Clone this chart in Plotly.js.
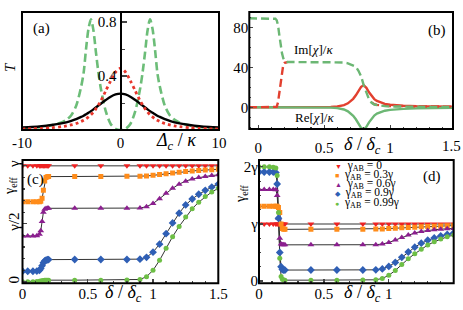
<!DOCTYPE html>
<html>
<head>
<meta charset="utf-8">
<script src="https://cdn.plot.ly/plotly-3.0.1.min.js"></script>
<style>html,body{margin:0;padding:0;background:#fff;}#plot{width:463px;height:310px;}</style>
</head>
<body>
<div id="plot"></div>
<script>
// ---------- Panel (a): transmission T vs Delta_c/kappa ----------
const detuningA = [-10,-9,-8,-7,-6,-5.5,-5,-4.5,-4,-3.75,-3.5,-3.25,-3,-2.75,-2.5,-2.25,-2,-1.5,-1,-0.5,0,0.5,1,1.5,2,2.25,2.5,2.75,3,3.25,3.5,3.75,4,4.5,5,5.5,6,7,8,9,10];
const transGreen = [0.011,0.015,0.022,0.035,0.055,0.075,0.11,0.18,0.32,0.42,0.6,0.75,0.82,0.74,0.58,0.43,0.31,0.14,0.045,0.008,0,0.008,0.045,0.14,0.31,0.43,0.58,0.74,0.82,0.75,0.6,0.42,0.32,0.18,0.11,0.075,0.055,0.035,0.022,0.015,0.011];
const transRed = [0.007,0.009,0.012,0.017,0.025,0.03,0.038,0.048,0.063,0.072,0.083,0.097,0.113,0.133,0.157,0.185,0.215,0.29,0.365,0.43,0.458,0.43,0.365,0.29,0.215,0.185,0.157,0.133,0.113,0.097,0.083,0.072,0.063,0.048,0.038,0.03,0.025,0.017,0.012,0.009,0.007];
const transBlack = [0.018,0.022,0.028,0.037,0.049,0.057,0.067,0.08,0.097,0.106,0.117,0.128,0.14,0.153,0.167,0.181,0.195,0.222,0.247,0.264,0.27,0.264,0.247,0.222,0.195,0.181,0.167,0.153,0.14,0.128,0.117,0.106,0.097,0.08,0.067,0.057,0.049,0.037,0.028,0.022,0.018];

// ---------- Panel (b): susceptibility vs delta/delta_c ----------
const deltaB = [-0.07,0,0.05,0.1,0.12,0.13,0.14,0.15,0.16,0.17,0.18,0.19,0.2,0.22,0.3,0.4,0.5,0.55,0.6,0.65,0.68,0.7,0.72,0.74,0.76,0.78,0.8,0.82,0.84,0.86,0.88,0.9,0.93,0.96,1.0,1.05,1.1,1.2,1.3,1.4,1.5];
const imGreen = [89,89,89,89,89,88.5,87,82,72,62,54,49,46.5,45.3,45,45,45,45,45,44.7,44,43,41.5,40.5,36.5,31,22,14.5,8,4.5,2.8,2.3,1.6,1.2,0.9,0.7,0.6,0.45,0.35,0.3,0.25];
const imRed = [0,0,0,0,0,0,0.5,5,15,28,38,43,44.5,45,null,null,null,null,null,null,null,null,null,null,null,null,null,null,null,4.8,3.1,2.4,1.8,1.5,1.3,1.1,1.0,0.9,0.8,0.7,0.6];
const reRed = [0,0,0,0,0,0,0,0,0,0,0,0,0,0,0,0,0,0.3,0.8,2.2,4,5.8,8.5,12,16.5,20.5,22,19.5,15,11,8.2,6.3,4.5,3.4,2.6,2.0,1.6,1.1,0.8,0.6,0.5];
const reGreen = [0,0,0,0,0,0,0,0,0,0,0,0,0,0,0,0,0,-0.3,-0.8,-2.2,-4,-5.8,-8.5,-12,-16.5,-20.5,-22,-19.5,-15,-11,-8.2,-6.3,-4.5,-3.4,-2.6,-2.0,-1.6,-1.1,-0.8,-0.6,-0.5];

// ---------- Panels (c), (d): gamma_eff / gamma vs delta/delta_c ----------
const deltaCD = [0,0.04,0.08,0.11,0.13,0.14,0.15,0.16,0.17,0.18,0.19,0.2,0.4,0.6,0.8,0.9,0.95,1.0,1.05,1.1,1.15,1.2,1.25,1.3,1.35,1.4,1.45,1.5];
const legendLabels = ['γ<sub>AB</sub> = 0','γ<sub>AB</sub> = 0.3γ','γ<sub>AB</sub> = 0.6γ','γ<sub>AB</sub> = 0.9γ','γ<sub>AB</sub> = 0.99γ'];
const c0  = [1,1,1,1,1,1,1,1,1,1,1,1,1,1,1,1,1,1,1,1,1,1,1,1,1,1,1,1];
const c03 = [0.69,0.69,0.69,0.69,0.69,0.695,0.72,0.79,0.87,0.9,0.905,0.907,0.908,0.908,0.909,0.91,0.912,0.918,0.925,0.932,0.938,0.944,0.95,0.955,0.96,0.964,0.967,0.97];
const c06 = [0.395,0.395,0.395,0.397,0.41,0.44,0.52,0.6,0.625,0.632,0.634,0.634,0.634,0.634,0.634,0.636,0.648,0.675,0.717,0.763,0.806,0.842,0.868,0.886,0.899,0.908,0.916,0.922];
const c09 = [0.092,0.092,0.092,0.093,0.1,0.115,0.14,0.165,0.18,0.188,0.191,0.192,0.193,0.193,0.193,0.196,0.212,0.256,0.325,0.415,0.508,0.592,0.663,0.714,0.755,0.789,0.817,0.843];
const c099= [0.002,0.002,0.002,0.003,0.005,0.008,0.011,0.013,0.014,0.015,0.015,0.015,0.015,0.015,0.016,0.021,0.045,0.1,0.186,0.29,0.39,0.478,0.558,0.63,0.687,0.735,0.775,0.806];
const d0  = [1,1,1,1,1,1,1,1,1,1,1,1,1,1,1,1,1,1,1,1,1,1,1,1,1,1,1,1];
const d03 = [1.31,1.31,1.31,1.31,1.31,1.31,1.29,1.2,1.0,0.92,0.905,0.905,0.908,0.908,0.909,0.91,0.912,0.918,0.925,0.932,0.938,0.944,0.95,0.955,0.96,0.964,0.967,0.97];
const d06 = [1.605,1.605,1.605,1.603,1.6,1.5,1.1,0.75,0.65,0.635,0.634,0.634,0.634,0.634,0.634,0.636,0.648,0.675,0.717,0.763,0.806,0.842,0.868,0.886,0.899,0.908,0.916,0.922];
const d09 = [1.91,1.91,1.91,1.908,1.9,1.7,1.1,0.5,0.25,0.2,0.193,0.192,0.193,0.193,0.193,0.196,0.212,0.256,0.325,0.415,0.508,0.592,0.663,0.714,0.755,0.789,0.817,0.843];
const d099= [2.0,2.0,2.0,1.995,1.98,1.85,1.2,0.4,0.08,0.03,0.02,0.015,0.015,0.015,0.016,0.021,0.045,0.1,0.186,0.29,0.39,0.478,0.558,0.63,0.687,0.735,0.775,0.806];

const W = 463, H = 310;
const FONT = "'Liberation Serif', 'Times New Roman', serif";
const colA = {green:'#6cbd78', red:'#e8372c', black:'#000000'};
const colB = {green:'#6cb774', red:'#e2402f'};
const serCols = ['#ee2222','#ff8c1a','#8b1f8f','#2f5fb5','#6dbf45'];
const serSyms = ['triangle-down','square','triangle-up','diamond','circle'];
const serSize = [6,5,6,6,5];

const traces = [];
// (a)
traces.push({x:detuningA, y:transGreen, xaxis:'x', yaxis:'y', mode:'lines', line:{color:colA.green, width:2.6, dash:'8px,4px', shape:'spline', smoothing:0.8}, showlegend:false});
traces.push({x:detuningA, y:transBlack, xaxis:'x', yaxis:'y', mode:'lines', line:{color:colA.black, width:2.4, shape:'spline', smoothing:0.8}, showlegend:false});
traces.push({x:detuningA, y:transRed, xaxis:'x', yaxis:'y', mode:'lines', line:{color:colA.red, width:2.8, dash:'3px,3px', shape:'spline', smoothing:0.8}, showlegend:false});
// (b)
traces.push({x:deltaB, y:reRed, xaxis:'x2', yaxis:'y2', mode:'lines', line:{color:colB.red, width:2.4}, showlegend:false});
traces.push({x:deltaB, y:reGreen, xaxis:'x2', yaxis:'y2', mode:'lines', line:{color:colB.green, width:2.4}, showlegend:false});
traces.push({x:deltaB, y:imRed, xaxis:'x2', yaxis:'y2', mode:'lines', connectgaps:false, line:{color:colB.red, width:2.4, dash:'8px,4px'}, showlegend:false});
traces.push({x:deltaB, y:imGreen, xaxis:'x2', yaxis:'y2', mode:'lines', line:{color:colB.green, width:2.4, dash:'8px,4px'}, showlegend:false});
// (c), (d)
const cSeries = [c0,c03,c06,c09,c099];
const dSeries = [d0,d03,d06,d09,d099];
[['x3','y3',cSeries],['x4','y4',dSeries]].forEach(([xa,ya,ser])=>{
  ser.forEach((vals,i)=>{
    traces.push({x:deltaCD, y:vals, xaxis:xa, yaxis:ya, mode:'lines', line:{color:i===0?'#777':'#333', width:i===0?1.6:1}, showlegend:false, hoverinfo:'skip'});
  });
  ser.forEach((vals,i)=>{
    traces.push({x:deltaCD, y:vals, xaxis:xa, yaxis:ya, mode:'markers', marker:{color:serCols[i], symbol:serSyms[i], size:serSize[i], line:{width:0}}, showlegend:false});
  });
});

function ann(x, y, text, size, extra){
  return Object.assign({x:x/W, y:1-y/H, xref:'paper', yref:'paper', text:text, showarrow:false, font:{family:FONT, size:size, color:'#000'}, xanchor:'center', yanchor:'middle'}, extra||{});
}
const annotations = [
  ann(41,28,'(a)',15), ann(437,31,'(b)',15), ann(35,179,'(c)',15), ann(432,176,'(d)',15),
  ann(10,67,'<i>T</i>',15,{textangle:-90}),
  ann(176,141,'<i>Δ<sub>c</sub></i> / <i>κ</i>',18),
  ann(362,145,'<i>δ</i> / <i>δ<sub>c</sub></i>',18),
  ann(123,293,'<i>δ</i> / <i>δ<sub>c</sub></i>',18),
  ann(362,293,'<i>δ</i> / <i>δ<sub>c</sub></i>',18),
  ann(313,49,'Im[<i>χ</i>]/<i>κ</i>',13),
  ann(314,117,'Re[<i>χ</i>]/<i>κ</i>',13),
  ann(10,186,'γ<sub>eff</sub>',14,{textangle:-90}),
  ann(241,193,'γ<sub>eff</sub>',14,{textangle:-90}),
  ann(451,146,'1.5',15)
];
const legY = [166,175,184,193,203];
const legSym = ['▼','■','▲','◆','●'];
legendLabels.forEach((lab,i)=>{
  annotations.push(ann(333,legY[i],'<span style="color:'+serCols[i]+';font-size:7px">'+legSym[i]+'</span>  '+lab,11.5,{xanchor:'left'}));
});

function frame(xr, yr){
  return {type:'rect', xref:xr+' domain', yref:yr+' domain', x0:0, x1:1, y0:0, y1:1, line:{color:'#000', width:2}, layer:'above'};
}
const tf = {family:FONT, size:15, color:'#000'};
const base = {showgrid:false, zeroline:false, showline:false, tickfont:tf, fixedrange:true};
const layout = {
  width:W, height:H, autosize:false,
  margin:{l:0,r:0,t:0,b:0,pad:0},
  paper_bgcolor:'#fff', plot_bgcolor:'#fff',
  showlegend:false,
  font:{family:FONT, color:'#000'},
  xaxis: Object.assign({}, base, {domain:[22/W, 219/W], range:[-10,10], anchor:'y', tickmode:'array', tickvals:[-10,0,10], ticktext:['-10','0','10'], ticks:'', ticklabelstandoff:2}),
  yaxis: Object.assign({}, base, {domain:[1-130/H, 1-12/H], range:[0,0.875], anchor:'free', position:120.5/W, showline:true, linewidth:2, linecolor:'#000', ticks:'inside', ticklen:5, tickwidth:1.5, tickmode:'array', tickvals:[0.4,0.8], ticktext:['0.4','0.8'], minor:{tickmode:'array', tickvals:[0.2,0.6], ticks:'inside', ticklen:3, tickwidth:1}, layer:'above traces'}),
  xaxis2: Object.assign({}, base, {domain:[249.3/W, 453/W], range:[-0.068,1.477], anchor:'y2', tickmode:'array', tickvals:[0,0.5,1], ticktext:['0','0.5','1'], ticks:'inside', ticklen:4, tickwidth:1.2, minor:{dtick:0.1, tick0:0, ticks:'inside', ticklen:2}, ticklabelstandoff:8}),
  yaxis2: Object.assign({}, base, {domain:[1-129/H, 1-12/H], range:[-21.7,95.3], anchor:'x2', tickmode:'array', tickvals:[0,40,80], ticktext:['0','40','80'], ticks:'inside', ticklen:4, tickwidth:1.2, minor:{dtick:10, tick0:0, ticks:'inside', ticklen:2}}),
  xaxis3: Object.assign({}, base, {domain:[22.5/W, 218.3/W], range:[0,1.5], anchor:'y3', tickmode:'array', tickvals:[0,0.5,1,1.5], ticktext:['0','0.5','1','1.5'], ticks:'inside', ticklen:4, tickwidth:1.2, minor:{dtick:0.1, tick0:0, ticks:'inside', ticklen:2}}),
  yaxis3: Object.assign({}, base, {domain:[1-283.3/H, 1-160/H], range:[-0.012,1.05], anchor:'x3', tickmode:'array', tickvals:[0,0.5,1], ticktext:['0','γ/2','γ'], tickangle:-90, ticks:'inside', ticklen:4, tickwidth:1.2, minor:{dtick:0.1, tick0:0, ticks:'inside', ticklen:2}}),
  xaxis4: Object.assign({}, base, {domain:[259/W, 453.7/W], range:[0,1.5], anchor:'y4', tickmode:'array', tickvals:[0,0.5,1,1.5], ticktext:['0','0.5','1','1.5'], ticks:'inside', ticklen:4, tickwidth:1.2, minor:{dtick:0.1, tick0:0, ticks:'inside', ticklen:2}}),
  yaxis4: Object.assign({}, base, {domain:[1-283.3/H, 1-160/H], range:[-0.04,2.12], anchor:'x4', tickmode:'array', tickvals:[0,1,2], ticktext:['0','γ','2γ'], ticks:'inside', ticklen:4, tickwidth:1.2, minor:{dtick:0.25, tick0:0, ticks:'inside', ticklen:2}}),
  shapes:[frame('x','y'), frame('x2','y2'), frame('x3','y3'), frame('x4','y4')],
  annotations: annotations
};
Plotly.newPlot('plot', traces, layout, {staticPlot:true, displayModeBar:false});
</script>
</body>
</html>
